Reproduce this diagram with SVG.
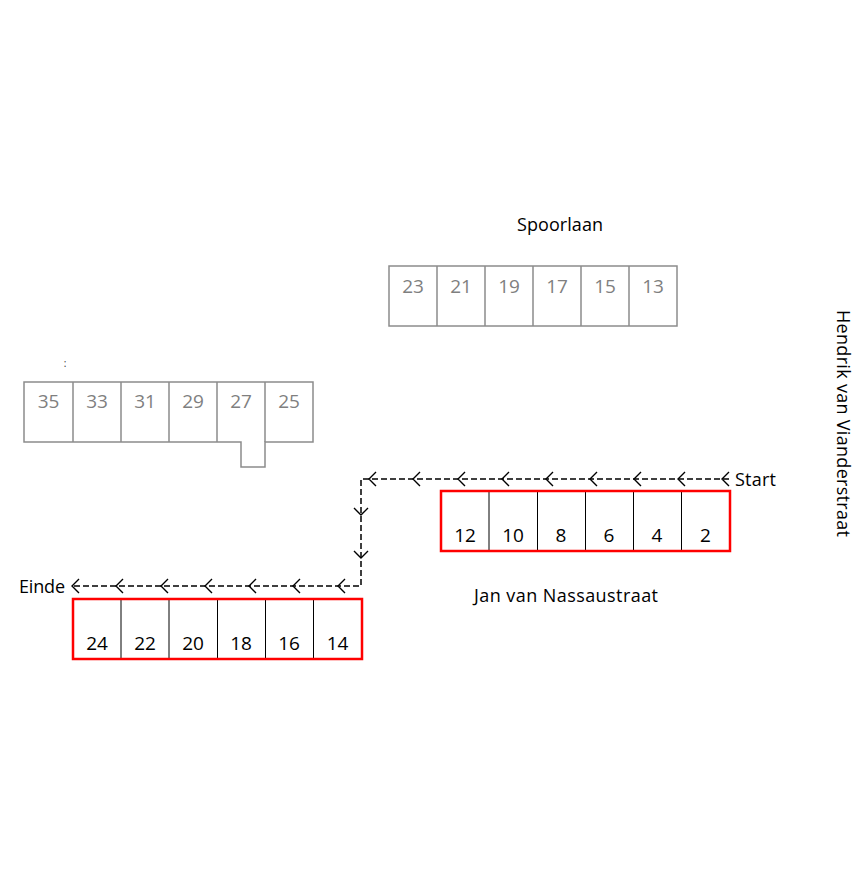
<svg xmlns="http://www.w3.org/2000/svg" width="862" height="885" viewBox="0 0 862 885">
<style>
text{font-family:"Open Sans","Liberation Sans",sans-serif;}
.lbl{font-size:18px;fill:#000;}
.gn{font-size:19px;fill:#7f7f7f;text-anchor:middle;}
.bn{font-size:19px;fill:#000;text-anchor:middle;}
.gbox{fill:none;stroke:#8c8c8c;stroke-width:1.5;}
.rbox{fill:none;stroke:#ff0000;stroke-width:2.5;}
.div{stroke:#000;stroke-width:1;}
.path{fill:none;stroke:#000;stroke-width:1.5;stroke-dasharray:6,3;}
.chev{fill:none;stroke:#000;stroke-width:1.4;}
</style>
<rect width="862" height="885" fill="#fff"/>

<g id="labels">
<text class="lbl" x="517" y="231" textLength="86">Spoorlaan</text>
<text class="lbl" x="474" y="602" textLength="184">Jan van Nassaustraat</text>
<text class="lbl" x="735" y="486" textLength="41">Start</text>
<text class="lbl" x="19" y="593" textLength="46">Einde</text>
<text class="lbl" transform="translate(837,310) rotate(90)" textLength="227">Hendrik van Vianderstraat</text>
<text x="65" y="367" font-size="10" text-anchor="middle" fill="#333">:</text>
</g>

<g id="block-spoorlaan">
<rect class="gbox" x="389" y="266" width="288" height="60"/>
<path class="gbox" d="M437 266V326M485 266V326M533 266V326M581 266V326M629 266V326"/>
<text class="gn" x="413" y="293">23</text>
<text class="gn" x="461" y="293">21</text>
<text class="gn" x="509" y="293">19</text>
<text class="gn" x="557" y="293">17</text>
<text class="gn" x="605" y="293">15</text>
<text class="gn" x="653" y="293">13</text>
</g>

<g id="block-left">
<path class="gbox" d="M24 382H313V442H265V467H241V442H24Z"/>
<path class="gbox" d="M73 382V442M121 382V442M169 382V442M217 382V442M265 382V442"/>
<text class="gn" x="48.5" y="408">35</text>
<text class="gn" x="97" y="408">33</text>
<text class="gn" x="145" y="408">31</text>
<text class="gn" x="193" y="408">29</text>
<text class="gn" x="241" y="408">27</text>
<text class="gn" x="289" y="408">25</text>
</g>

<g id="block-top-red">
<path class="div" d="M489 491V551M537.5 491V551M585.5 491V551M633.5 491V551M681.5 491V551"/>
<rect class="rbox" x="441" y="491" width="289" height="60"/>
<text class="bn" x="465" y="542">12</text>
<text class="bn" x="513" y="542">10</text>
<text class="bn" x="561" y="542">8</text>
<text class="bn" x="609" y="542">6</text>
<text class="bn" x="657" y="542">4</text>
<text class="bn" x="705.5" y="542">2</text>
</g>

<g id="block-bottom-red">
<path class="div" d="M121 599V659M169 599V659M217.5 599V659M265.5 599V659M313.5 599V659"/>
<rect class="rbox" x="73" y="599" width="289" height="60"/>
<text class="bn" x="97" y="650">24</text>
<text class="bn" x="145" y="650">22</text>
<text class="bn" x="193" y="650">20</text>
<text class="bn" x="241" y="650">18</text>
<text class="bn" x="289" y="650">16</text>
<text class="bn" x="337.5" y="650">14</text>
</g>

<g id="connectors">
<path class="path" d="M729 479H361V586H72"/>
<path class="chev" d="M376 472L369 479L376 486M420 472L413 479L420 486M465 472L458 479L465 486M509 472L502 479L509 486M553 472L546 479L553 486M597 472L590 479L597 486M641 472L634 479L641 486M685 472L678 479L685 486M729 472L722 479L729 486"/>
<path class="chev" d="M354 508L361 515L368 508M354 551L361 558L368 551"/>
<path class="chev" d="M79 579L72 586L79 593M123 579L116 586L123 593M168 579L161 586L168 593M212 579L205 586L212 593M256 579L249 586L256 593M300 579L293 586L300 593M345 579L338 586L345 593"/>
</g>
</svg>
